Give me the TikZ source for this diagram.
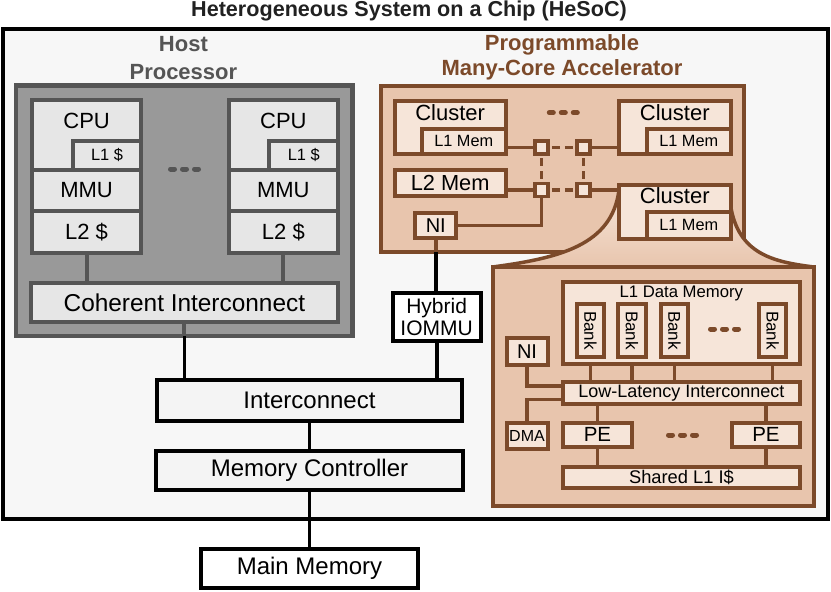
\documentclass[tikz,border=0pt]{standalone}
\usepackage{fontspec}
\setmainfont{Liberation Sans}
\usetikzlibrary{positioning,calc}
\definecolor{sysfill}{HTML}{F7F7F7}
\definecolor{sysunitfill}{HTML}{F4F4F4}
\definecolor{hostfill}{HTML}{999999}
\definecolor{hostline}{HTML}{555555}
\definecolor{hostunitfill}{HTML}{E6E6E6}
\definecolor{accline}{HTML}{7C4A2A}
\definecolor{accfill}{HTML}{E8C5AD}
\definecolor{accunitfill}{HTML}{F6E5D9}
\newcommand{\fsz}[1]{\fontsize{#1pt}{#1pt}\selectfont}
\tikzset{
  sysbox/.style={draw=black,line width=4pt,fill=sysfill,inner sep=0pt,outer sep=0pt},
  sysunit/.style={draw=black,line width=4pt,fill=sysunitfill,inner sep=0pt,outer sep=0pt,font=\fsz{24}},
  hostbox/.style={draw=hostline,line width=4.3pt,fill=hostfill,inner sep=0pt,outer sep=0pt},
  hostunit/.style={draw=hostline,line width=4pt,fill=hostunitfill,inner sep=0pt,outer sep=0pt,font=\fsz{22}},
  accbox/.style={draw=accline,line width=4pt,fill=accfill,inner sep=0pt,outer sep=0pt},
  accunit/.style={draw=accline,line width=4pt,fill=accunitfill,inner sep=0pt,outer sep=0pt,font=\fsz{22}},
  router/.style={accunit,line width=3.5pt,minimum size=13pt},
  hosttitle/.style={font=\bfseries\fontsize{22pt}{27.5pt}\selectfont,text=hostline,align=center},
  acctitle/.style={font=\bfseries\fontsize{22pt}{25pt}\selectfont,text=accline,align=center},
  toplabel/.style={anchor=base,yshift=-#1},
  syswire/.style={line width=3.8pt,draw=black},
  hostwire/.style={line width=4pt,draw=hostline},
  accwire/.style={line width=3.5pt,draw=accline},
  meshlink/.style={accwire,dash pattern=on 8pt off 5pt,dash phase=9pt},
  elide/.style={line width=5pt,line cap=round}
}

\begin{document}
\begin{tikzpicture}[x=1pt,y=-1pt]
\useasboundingbox (0,0) rectangle (831,592);

\node[font=\bfseries\fsz{21.6},text=black!87,anchor=base] (title) at (409,16.7) {Heterogeneous System on a Chip (HeSoC)};
\node[sysbox,anchor=north west,minimum width=825.5pt,minimum height=489.5pt] (soc) at (2.5,29.2) {};

% host side
\node[hosttitle] (hostlbl) at (183.4,58) {Host\\Processor};
\node[hostbox,anchor=north west,minimum width=336.3pt,minimum height=250.3pt] (host) at (16.2,85.5) {};
\foreach \col/\cx in {A/31.75,B/228.5}{
  \node[hostunit,anchor=north west,minimum width=109.7pt,minimum height=69.75pt,
        label={[toplabel=28.5pt,font=\fsz{22}]north:CPU}] (cpu\col) at (\cx,99.75) {};
  \node[hostunit,anchor=south east,minimum width=68.75pt,minimum height=28.2pt,font=\fsz{16.4}] (lone\col) at (cpu\col.south east) {L1 \$};
  \node[hostunit,below=0pt of cpu\col,minimum width=109.7pt,minimum height=41.3pt] (mmu\col) {MMU};
  \node[hostunit,below=0pt of mmu\col,minimum width=109.7pt,minimum height=41.7pt] (ltwo\col) {L2 \$};
}
\node[hostunit,anchor=north west,minimum width=306.2pt,minimum height=39.2pt,font=\fsz{24.4}] (coh) at (31.3,283) {Coherent Interconnect};
\foreach \dx in {-12,0,12}
  \draw[elide,hostline] (184.5+\dx-2,169) -- ++(4,0);
\draw[hostwire] (ltwoA) -- (ltwoA |- coh.north);
\draw[hostwire] (ltwoB) -- (ltwoB |- coh.north);

% accelerator
\node[acctitle] (acclbl) at (562,57.4) {Programmable\\Many-Core Accelerator};
\node[accbox,anchor=north west,minimum width=362.5pt,minimum height=166.5pt] (accel) at (381.3,85.5) {};

% zoom lens onto one cluster
\shade[top color=accunitfill,bottom color=accfill] (619,190) .. controls (612,245) and (560,258) .. (492.5,267)
  -- (813.8,267) .. controls (775,262) and (738,255) .. (730.5,205) -- (730.5,190) -- cycle;
\draw[accwire] (619,190) .. controls (612,245) and (560,258) .. (492.5,267);
\draw[accwire] (730.5,205) .. controls (738,255) and (775,262) .. (813.8,267);

\node[accunit,anchor=north west,minimum width=110.7pt,minimum height=53.5pt,
      label={[toplabel=19.5pt,font=\fsz{22}]north:Cluster}] (clA) at (394.8,100.5) {};
\node[accunit,anchor=south east,minimum width=83.5pt,minimum height=25.3pt,font=\fsz{16.3}] (lmemA) at (clA.south east) {L1 Mem};
\node[accunit,anchor=north west,minimum width=111.5pt,minimum height=53.5pt,
      label={[toplabel=19.5pt,font=\fsz{22}]north:Cluster}] (clB) at (619,100.5) {};
\node[accunit,anchor=south east,minimum width=83.5pt,minimum height=25.3pt,font=\fsz{16.3}] (lmemB) at (clB.south east) {L1 Mem};
\node[accunit,anchor=north west,minimum width=111.5pt,minimum height=54pt,
      label={[toplabel=19pt,font=\fsz{22}]north:Cluster}] (clC) at (619,184.5) {};
\node[accunit,anchor=south east,minimum width=83.5pt,minimum height=26.5pt,font=\fsz{16.3}] (lmemC) at (clC.south east) {L1 Mem};
\node[accunit,anchor=north west,minimum width=110.7pt,minimum height=25.2pt,font=\fsz{21.8}] (ltwomem) at (394.8,170.3) {L2 Mem};
\node[accunit,anchor=north west,minimum width=41pt,minimum height=25.3pt,font=\fsz{20}] (ni) at (415.3,212.7) {NI};
\foreach \dx in {-12,0,12}
  \draw[elide,accline] (563.3+\dx-2,112.7) -- ++(4,0);

\node[router] (rtA) at (541.3,147.5) {};
\node[router] (rtB) at (583.3,147.5) {};
\node[router] (rtC) at (541.3,190) {};
\node[router] (rtD) at (583.3,190) {};
\draw[accwire] (rtA.west -| lmemA.east) -- (rtA.west);
\draw[accwire] (rtB.east) -- (rtB.east -| clB.west);
\draw[accwire] (rtC.west -| ltwomem.east) -- (rtC.west);
\draw[accwire] (rtD.east) -- (rtD.east -| clC.west);
\draw[accwire] (ni.east) -| (rtC.south);
\draw[meshlink] (rtA) -- (rtB);
\draw[meshlink] (rtC) -- (rtD);
\draw[meshlink] (rtA) -- (rtC);
\draw[meshlink] (rtB) -- (rtD);

% cluster detail
\node[accbox,anchor=north west,minimum width=321.3pt,minimum height=238.8pt] (detail) at (492.5,267) {};
\node[accunit,anchor=north west,minimum width=237.7pt,minimum height=82.5pt,
      label={[toplabel=16pt,font=\fsz{16.7}]north:L1 Data Memory}] (lonedm) at (562.5,281.7) {};
\foreach \i/\bx in {1/590.5,2/632,3/674.5,4/772.7}
  \node[accunit,rotate=-90,minimum width=52.6pt,minimum height=27.4pt,font=\fsz{17}] (bank\i) at (\bx,330.5) {Bank};
\foreach \dx in {-12,0,12}
  \draw[elide,accline] (724.5+\dx-2,329) -- ++(4,0);
\node[accunit,anchor=north west,minimum width=237.5pt,minimum height=22pt,font=\fsz{18}] (lli) at (562.7,382.2) {Low-Latency Interconnect};
\node[accunit,anchor=north west,minimum width=69.5pt,minimum height=24.7pt,font=\fsz{20.5}] (peA) at (562.7,422.5) {PE};
\node[accunit,anchor=north west,minimum width=68.5pt,minimum height=24.7pt,font=\fsz{20.5}] (peB) at (731.7,422.5) {PE};
\foreach \dx in {-12,0,12}
  \draw[elide,accline] (682.5+\dx-2,435) -- ++(4,0);
\node[accunit,anchor=north west,minimum width=237.5pt,minimum height=20.8pt,font=\fsz{18.3}] (shared) at (562.7,466.7) {Shared L1 I\$};
\node[accunit,anchor=north west,minimum width=41pt,minimum height=27pt,font=\fsz{20}] (nitwo) at (506.5,338.3) {NI};
\node[accunit,anchor=north west,minimum width=41pt,minimum height=26.3pt,font=\fsz{16}] (dma) at (506.5,422.5) {DMA};
\foreach \i in {1,...,4}
  \draw[accwire] (bank\i |- lonedm.south) -- (bank\i |- lli.north);
\draw[accwire] (nitwo) |- ([yshift=7.2pt]lli.west);
\draw[accwire] (dma) |- ([yshift=-6.1pt]lli.west);
\draw[accwire] (lli.south -| peA) -- (peA);
\draw[accwire] (lli.south -| peB) -- (peB);
\draw[accwire] (peA) -- (peA |- shared.north);
\draw[accwire] (peB) -- (peB |- shared.north);

% system level
\node[sysunit,anchor=north west,minimum width=87.7pt,minimum height=47.7pt,fill=white,align=center,
      font=\fontsize{21pt}{22pt}\selectfont] (iommu) at (392.8,292.8) {Hybrid\\IOMMU};
\node[sysunit,anchor=north west,minimum width=304.5pt,minimum height=40.8pt] (ic) at (157.2,379.7) {Interconnect};
\node[sysunit,below=30pt of ic,minimum width=306.6pt,minimum height=39pt] (mc) {Memory Controller};
\node[sysunit,below=59.2pt of mc,minimum width=217.7pt,minimum height=39.6pt,fill=white] (mainmem) {Main Memory};
\draw[hostwire] (coh.south) -- (coh.south |- host.south);
\draw[syswire] (coh.south |- host.south) -- (coh.south |- ic.north);
\draw[accwire] (ni.south) -- (ni.south |- accel.south);
\draw[syswire] (ni.south |- accel.south) -- (ni.south |- iommu.north);
\draw[syswire] (iommu) -- (iommu |- ic.north);
\draw[syswire] (ic) -- (mc);
\draw[syswire] (mc) -- (mainmem);
\end{tikzpicture}
\end{document}
